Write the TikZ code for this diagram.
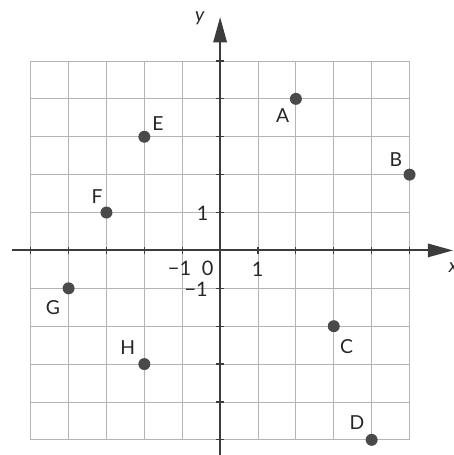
\documentclass[tikz,border=0pt]{standalone}
\usepackage{fontspec}
\setmainfont{Lato}
\usetikzlibrary{arrows.meta}
\definecolor{gridc}{HTML}{B4B4B4}
\definecolor{axc}{HTML}{3C3C3C}
\definecolor{ptc}{HTML}{4A4A4A}
\begin{document}
\begin{tikzpicture}[
  gridline/.style={draw=gridc, line width=0.6pt},
  axis/.style={draw=axc, line width=1.6pt, -{Triangle[length=19pt,width=10pt]}},
  tick/.style={draw=axc, line width=0.9pt},
  pt/.style={circle, fill=ptc, inner sep=0pt, minimum size=9pt},
  lab/.style={text=black!85, font=\fontsize{14.5}{16}\selectfont, inner sep=0pt},
  num/.style={text=black!85, font=\fontsize{15}{17}\selectfont, inner sep=0pt}
]
\useasboundingbox (-5.81,-5.40) rectangle (6.17,6.61);
\fill[white] (-5.81,-5.40) rectangle (6.17,6.61);
\draw[gridline] (-5,-5) grid (5,5);
\coordinate (xs) at (-5.5,0);
\coordinate (xe) at (6.15,0);
\coordinate (ys) at (0,-5.45);
\coordinate (ye) at (0,6.16);
\draw[axis] (xs) -- (xe);
\draw[axis] (ys) -- (ye);
\foreach \i in {-5,...,5} {
  \draw[tick] (\i,-0.1) -- (\i,0.1);
  \draw[tick] (-0.1,\i) -- (0.1,\i);
}
\node[lab, font=\fontsize{14.5}{16}\selectfont\itshape] (ylab) at (-0.54,6.14) {y};
\node[lab, font=\fontsize{14.5}{16}\selectfont\itshape, anchor=west] (xlab) at (6.03,-0.46) {x};
\node[num] (n1y) at (-0.46,0.99) {1};
\node[num] (nm1x) at (-1.07,-0.47) {−1};
\node[num] (n0) at (-0.33,-0.46) {0};
\node[num] (n1x) at (0.99,-0.51) {1};
\node[num] (nm1y) at (-0.63,-1.02) {−1};
\node[pt] (A) at (2,4) {};
\node[pt] (B) at (5,2) {};
\node[pt] (C) at (3,-2) {};
\node[pt] (D) at (4,-5) {};
\node[pt] (E) at (-2,3) {};
\node[pt] (F) at (-3,1) {};
\node[pt] (G) at (-4,-1) {};
\node[pt] (H) at (-2,-3) {};
\node[lab] (lA) at (1.65,3.55) {A};
\node[lab] (lB) at (4.64,2.39) {B};
\node[lab] (lC) at (3.34,-2.55) {C};
\node[lab] (lD) at (3.61,-4.55) {D};
\node[lab] (lE) at (-1.64,3.36) {E};
\node[lab] (lF) at (-3.25,1.41) {F};
\node[lab] (lG) at (-4.41,-1.52) {G};
\node[lab] (lH) at (-2.44,-2.57) {H};
\end{tikzpicture}
\end{document}
